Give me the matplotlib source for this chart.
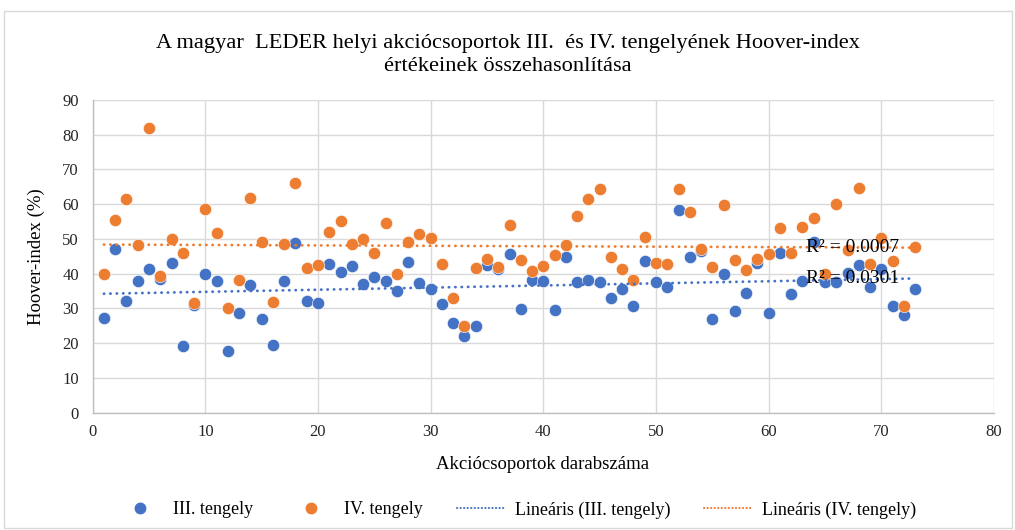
import numpy as np
import matplotlib
matplotlib.use('Agg')
import matplotlib.pyplot as plt
from matplotlib.lines import Line2D
from matplotlib.patches import Rectangle

plt.rcParams['font.family'] = ['Liberation Serif', 'DejaVu Serif']

# action group number (1..73)
groups = list(range(1, 74))

# Hoover-index, axis III
axis3 = [27.4, 47.0, 32.2, 37.8, 41.3, 38.4, 43.0, 19.2, 31.0, 39.8,
         38.0, 17.9, 28.6, 36.9, 27.0, 19.6, 38.0, 48.8, 32.2, 31.6,
         42.7, 40.5, 42.2, 37.0, 39.0, 38.0, 35.1, 43.4, 37.3, 35.6,
         31.2, 25.9, 22.0, 25.1, 42.6, 41.4, 45.6, 29.8, 38.3, 38.0,
         29.6, 44.9, 37.7, 38.2, 37.5, 32.9, 35.6, 30.7, 43.7, 37.5,
         36.1, 58.2, 44.8, 46.6, 26.9, 40.0, 29.3, 34.5, 43.1, 28.8,
         45.9, 34.2, 38.0, 49.0, 37.7, 37.7, 40.3, 42.4, 36.1, 41.3,
         30.8, 28.0, 35.6]

# Hoover-index, axis IV
axis4 = [39.8, 55.6, 61.6, 48.3, 82.0, 39.3, 50.0, 45.9, 31.6, 58.7,
         51.8, 30.0, 38.2, 61.9, 49.2, 32.0, 48.5, 66.0, 41.7, 42.5,
         52.1, 55.3, 48.5, 49.9, 46.1, 54.6, 39.8, 49.2, 51.3, 50.3,
         42.7, 32.9, 25.1, 41.7, 44.3, 42.0, 54.1, 43.9, 40.7, 42.3,
         45.3, 48.3, 56.7, 61.6, 64.5, 44.9, 41.4, 38.1, 50.7, 43.2,
         42.7, 64.5, 57.7, 47.2, 41.9, 59.7, 43.9, 41.2, 44.3, 45.8,
         53.2, 46.1, 53.4, 55.9, 39.8, 60.2, 46.8, 64.8, 42.7, 50.2,
         43.7, 30.8, 47.8]

r2_labels = ['R² = 0.0301', 'R² = 0.0007']

blue = '#4472C4'
orange = '#ED7D31'

fig = plt.figure(figsize=(10.15, 5.3), dpi=100)
ax = fig.add_axes([0.0913, 0.2213, 0.888, 0.59])

x = np.array(groups)
ax.scatter(x, axis3, s=78, color=blue, edgecolor='white', linewidth=0.4, zorder=3)
ax.scatter(x, axis4, s=78, color=orange, edgecolor='white', linewidth=0.4, zorder=3)

# linear trend lines
xe = np.array([x.min(), x.max()])
for ys, col in [(axis3, blue), (axis4, orange)]:
    k, b = np.polyfit(x, ys, 1)
    ax.plot(xe, k * xe + b, color=col, lw=2, linestyle=(0, (0.1, 2.2)),
            dash_capstyle='round', zorder=4)

ax.text(63.3, 38.5, r2_labels[0], fontsize=14, va='center', ha='left', zorder=5)
ax.text(63.3, 47.5, r2_labels[1], fontsize=14, va='center', ha='left', zorder=5)

ax.set_xlim(0, 80)
ax.set_ylim(0, 90)
ax.set_xticks(range(0, 81, 10))
ax.set_yticks(range(0, 91, 10))
ax.grid(True, color='#D9D9D9', lw=1)
ax.set_axisbelow(True)
for s in ['top', 'right']:
    ax.spines[s].set_visible(False)
for s in ['left', 'bottom']:
    ax.spines[s].set_color('#BFBFBF')
    ax.spines[s].set_linewidth(1)
ax.tick_params(length=0, labelsize=12, pad=8, labelcolor='#262626')
ax.tick_params(axis='y', pad=10)

ax.set_ylabel('Hoover-index (%)', fontsize=13.5, labelpad=12)
fig.text(0.535, 0.123, 'Akciócsoportok darabszáma', fontsize=13.5, ha='center', va='center')

fig.text(0.5, 0.896, 'A magyar  LEDER helyi akciócsoportok III.  és IV. tengelyének Hoover-index\nértékeinek összehasonlítása',
         fontsize=16.1, ha='center', va='center', linespacing=1.3)

handles = [
    Line2D([], [], ls='none', marker='o', ms=7.5, color=blue),
    Line2D([], [], ls='none', marker='o', ms=7.5, color=orange),
    Line2D([], [], color=blue, lw=1.5, linestyle=(0, (0.1, 1.6)), dash_capstyle='round'),
    Line2D([], [], color=orange, lw=1.5, linestyle=(0, (0.1, 1.6)), dash_capstyle='round'),
]
labels = ['III. tengely', 'IV. tengely', 'Lineáris (III. tengely)', 'Lineáris (IV. tengely)']
fig.legend(handles, labels, loc='center', bbox_to_anchor=(0.508, 0.038), ncol=4,
           frameon=False, fontsize=13, handlelength=2.67, columnspacing=1.9, handletextpad=0.5)

# outer chart border
fig.patches.append(Rectangle((0.004, 0.003), 0.993, 0.976, transform=fig.transFigure,
                             fill=False, edgecolor='#D9D9D9', lw=1))

fig.savefig('out.png', dpi=100)
